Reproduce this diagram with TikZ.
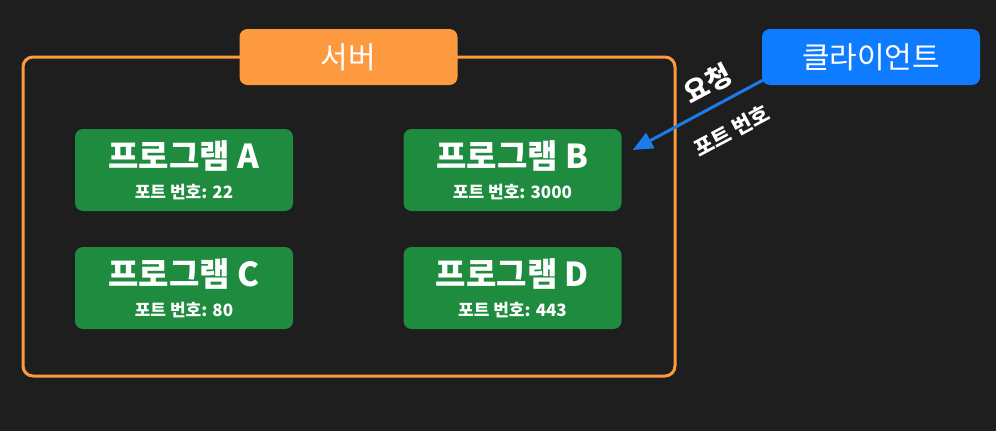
\documentclass[tikz,border=0pt]{standalone}
\usepackage{fontspec}
\setmainfont{Noto Sans CJK KR}
\usepackage{xcolor}
\usepackage{tikz}
\usetikzlibrary{arrows.meta,positioning,calc}

\definecolor{bgdark}{HTML}{1E1E1E}
\definecolor{srvorange}{HTML}{FD9A40}
\definecolor{clblue}{HTML}{0F7BFF}
\definecolor{arrblue}{HTML}{1A7CEB}
\definecolor{prggreen}{HTML}{1E8B3F}

\newcommand{\ptitle}[1]{{\bfseries\fontsize{33}{30}\selectfont #1}}
\newcommand{\pport}[1]{{\bfseries\fontsize{17}{30}\selectfont #1}}

\begin{document}
\begin{tikzpicture}[x=1pt,y=-1pt,
  prog/.style={fill=prggreen,rounded corners=8pt,minimum width=218pt,minimum height=82pt,
    text=white,align=center,inner sep=0pt,font=\fontsize{17}{30}\selectfont},
  tag/.style={rounded corners=8pt,minimum width=218pt,minimum height=56pt,
    text=white,font=\fontsize{30}{32}\selectfont},
  lbl/.style={text=white,inner sep=0pt,rotate=28}]
  \path[fill=bgdark] (0,0) rectangle (996,431);
  \node[draw=srvorange,line width=3pt,rounded corners=10pt,
    minimum width=652pt,minimum height=319pt] (server) at (349,216.5) {};
  \node[tag,fill=srvorange] (srvtag) at (348.5,57) {서버};
  \node[tag,fill=clblue] (client) at (871,57) {클라이언트};
  \node[prog] (progA) at (184,170) {\ptitle{프로그램 A}\\\pport{포트 번호: 22}};
  \node[prog] (progB) at (512.5,170) {\ptitle{프로그램 B}\\\pport{포트 번호: 3000}};
  \node[prog] (progC) at (184,288) {\ptitle{프로그램 C}\\\pport{포트 번호: 80}};
  \node[prog] (progD) at (512.5,288) {\ptitle{프로그램 D}\\\pport{포트 번호: 443}};
  \coordinate (reqend) at ($(progB.east)+(11,-20)$);
  \draw[arrblue,line width=3pt,-{Triangle[length=20pt,width=17pt]}]
    ($(client.south west)+(1,-5)$) -- (reqend) coordinate[pos=.34] (reqmid);
  \node[lbl,font=\bfseries\fontsize{27}{28}\selectfont] (reqtxt) at ($(reqmid)+(-11,-20)$) {요청};
  \node[lbl,font=\bfseries\fontsize{21}{22}\selectfont] (porttxt) at ($(reqmid)+(13,27)$) {포트 번호};
\end{tikzpicture}
\end{document}
